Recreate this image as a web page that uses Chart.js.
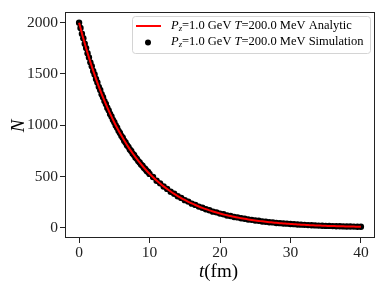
<!DOCTYPE html>
<html>
<head>
<meta charset="utf-8">
<script src="https://cdn.jsdelivr.net/npm/chart.js@4.4.1/dist/chart.umd.min.js"></script>
<style>
  html, body { margin: 0; padding: 0; background: #fff; }
  #wrap { width: 387px; height: 290px; }
</style>
</head>
<body>
<div id="wrap"><canvas id="myChart" width="387" height="290"></canvas></div>
<script>
// simulation: time (fm) and particle count
const simT = [
  0, 0.2, 0.4, 0.6, 0.8, 1, 1.2, 1.4, 1.6, 1.8, 2, 2.2, 2.4, 2.6, 2.8, 3, 3.2, 3.4, 3.6, 3.8,
  4, 4.2, 4.4, 4.6, 4.8, 5, 5.2, 5.4, 5.6, 5.8, 6, 6.2, 6.4, 6.6, 6.8, 7, 7.2, 7.4, 7.6, 7.8,
  8, 8.2, 8.4, 8.6, 8.8, 9, 9.2, 9.4, 9.6, 9.8, 10,
  10.5, 11, 11.5, 12, 12.5, 13, 13.5, 14, 14.5, 15, 15.5, 16, 16.5, 17, 17.5, 18, 18.5, 19, 19.5, 20,
  20.5, 21, 21.5, 22, 22.5, 23, 23.5, 24, 24.5, 25, 25.5, 26, 26.5, 27, 27.5, 28, 28.5, 29, 29.5, 30,
  30.5, 31, 31.5, 32, 32.5, 33, 33.5, 34, 34.5, 35, 35.5, 36, 36.5, 37, 37.5, 38, 38.5, 39, 39.5, 40
]
const simN = [
  2000, 1949, 1893, 1848, 1795, 1752, 1701, 1661, 1613, 1575, 1529, 1494, 1450, 1416, 1374, 1343, 1302, 1273, 1235, 1207,
  1170, 1145, 1110, 1085, 1052, 1029, 997, 976, 945, 925, 896, 877, 849, 832, 805, 789, 763, 748, 723, 709,
  686, 672, 650, 637, 616, 604, 584, 573, 554, 543, 525,
  495, 459, 433, 402, 379, 351, 332, 307, 291, 269, 255, 235, 223, 206, 195, 180, 171, 157, 150, 138,
  131, 120, 115, 105, 101, 92, 88, 80, 77, 70, 68, 61, 59, 54, 52, 47, 45, 41, 40, 36,
  35, 31, 30, 28, 26, 24, 23, 21, 20, 18, 18, 16, 15, 14, 13, 12, 12, 11, 10, 9
]

// analytic curve
const anaT = [
  0, 0.5, 1, 1.5, 2, 2.5, 3, 3.5, 4, 4.5, 5, 5.5, 6, 6.5, 7, 7.5, 8, 8.5, 9, 9.5, 10,
  10.5, 11, 11.5, 12, 12.5, 13, 13.5, 14, 14.5, 15, 15.5, 16, 16.5, 17, 17.5, 18, 18.5, 19, 19.5, 20,
  20.5, 21, 21.5, 22, 22.5, 23, 23.5, 24, 24.5, 25, 25.5, 26, 26.5, 27, 27.5, 28, 28.5, 29, 29.5, 30,
  30.5, 31, 31.5, 32, 32.5, 33, 33.5, 34, 34.5, 35, 35.5, 36, 36.5, 37, 37.5, 38, 38.5, 39, 39.5, 40
]
const anaN = [
  2000, 1871.0, 1750.3, 1637.4, 1531.8, 1433.1, 1340.6, 1254.1, 1173.2, 1097.6, 1026.8, 960.6, 898.7, 840.7, 786.5, 735.8, 688.3, 643.9, 602.4, 563.6, 527.2,
  493.2, 461.4, 431.6, 403.8, 377.8, 353.4, 330.6, 309.3, 289.3, 270.7, 253.2, 236.9, 221.6, 207.3, 194.0, 181.4, 169.7, 158.8, 148.6, 139.0,
  130.0, 121.6, 113.8, 106.4, 99.6, 93.2, 87.1, 81.5, 76.3, 71.3, 66.7, 62.4, 58.4, 54.6, 51.1, 47.8, 44.7, 41.9, 39.2, 36.6,
  34.3, 32.1, 30.0, 28.1, 26.2, 24.5, 23.0, 21.5, 20.1, 18.8, 17.6, 16.4, 15.4, 14.4, 13.5, 12.6, 11.8, 11.0, 10.3, 9.6
]

const xTicks = [0, 10, 20, 30, 40]
const yTicks = [0, 500, 1000, 1500, 2000]

const serif = '"Liberation Serif", "DejaVu Serif", serif'

// draws a run of text pieces, some italic / subscript
function drawRich(ctx, parts, x, y, size) {
  let cx = x
  parts.forEach(p => {
    let fs = p.sub ? size * 0.7 : size
    ctx.font = (p.it ? 'italic ' : '') + fs + 'px ' + serif
    ctx.fillText(p.t, cx, p.sub ? y + size * 0.22 : y)
    cx += ctx.measureText(p.t).width
  })
  return cx
}

const framePlugin = {
  id: 'frameAndLabels',
  afterDraw: function(chart) {
    const ctx = chart.ctx
    const a = chart.chartArea
    ctx.save()
    // all four spines
    ctx.strokeStyle = '#222'
    ctx.lineWidth = 1
    ctx.strokeRect(Math.round(a.left) + 0.5, Math.round(a.top) + 0.5, Math.round(a.right - a.left) - 1, Math.round(a.bottom - a.top) - 1)

    // legend box
    const bx = 132, by = 16, bw = 238, bh = 37
    ctx.fillStyle = 'rgba(255,255,255,0.85)'
    ctx.strokeStyle = '#d4d4d4'
    ctx.beginPath()
    ctx.roundRect(bx + 0.5, by + 0.5, bw, bh, 3)
    ctx.fill()
    ctx.stroke()

    ctx.strokeStyle = 'red'
    ctx.lineWidth = 2
    ctx.beginPath()
    ctx.moveTo(136, 26)
    ctx.lineTo(161, 26)
    ctx.stroke()

    ctx.fillStyle = '#000'
    ctx.beginPath()
    ctx.arc(148, 42.5, 3, 0, Math.PI * 2)
    ctx.fill()

    ctx.fillStyle = '#000'
    ctx.textBaseline = 'middle'
    ctx.textAlign = 'left'
    const head = [
      { t: 'P', it: true }, { t: 'z', it: true, sub: true },
      { t: '=1.0 GeV ' }, { t: 'T', it: true }, { t: '=200.0 MeV ' }
    ]
    drawRich(ctx, head.concat([{ t: 'Analytic' }]), 171, 25.5, 12.5)
    drawRich(ctx, head.concat([{ t: 'Simulation' }]), 171, 42, 12.5)

    // axis titles
    ctx.textBaseline = 'alphabetic'
    drawRich(ctx, [{ t: 't', it: true }, { t: '(fm)' }], 199, 277, 19)

    ctx.translate(24, 126)
    ctx.rotate(-Math.PI / 2)
    ctx.textAlign = 'center'
    ctx.font = 'italic 19px ' + serif
    ctx.fillText('N', 0, 0)
    ctx.restore()
  }
}

document.addEventListener('DOMContentLoaded', function() {
  const ctx = document.getElementById('myChart')
  new Chart(ctx, {
    type: 'scatter',
    data: {
      datasets: [
        {
          label: 'Analytic',
          data: anaT.map((t, i) => ({ x: t, y: anaN[i] })),
          showLine: true,
          borderColor: 'red',
          borderWidth: 2,
          pointRadius: 0,
          tension: 0.3,
          order: 0
        },
        {
          label: 'Simulation',
          data: simT.map((t, i) => ({ x: t, y: simN[i] })),
          backgroundColor: '#000',
          borderColor: '#000',
          pointRadius: 3.2,
          borderWidth: 0,
          order: 1
        }
      ]
    },
    options: {
      responsive: false,
      animation: false,
      layout: { padding: { left: 0, right: 12, top: 12, bottom: 0 } },
      plugins: {
        legend: { display: false },
        tooltip: { enabled: false }
      },
      scales: {
        x: {
          type: 'linear',
          min: -2,
          max: 42,
          afterBuildTicks: (s) => { s.ticks = xTicks.map(v => ({ value: v })) },
          afterFit: (s) => { s.height = 52 },
          grid: { drawOnChartArea: false, tickLength: 5, color: '#222' },
          border: { display: false },
          ticks: { color: '#222', padding: 1, font: { family: serif, size: 15.5 }, callback: (v) => String(v) }
        },
        y: {
          min: -100,
          max: 2104,
          afterBuildTicks: (s) => { s.ticks = yTicks.map(v => ({ value: v })) },
          afterFit: (s) => { s.width = 65 },
          grid: { drawOnChartArea: false, tickLength: 5, color: '#222' },
          border: { display: false },
          ticks: { color: '#222', padding: 2, font: { family: serif, size: 15.5 }, callback: (v) => String(v) }
        }
      }
    },
    plugins: [framePlugin]
  })
})
</script>
</body>
</html>
